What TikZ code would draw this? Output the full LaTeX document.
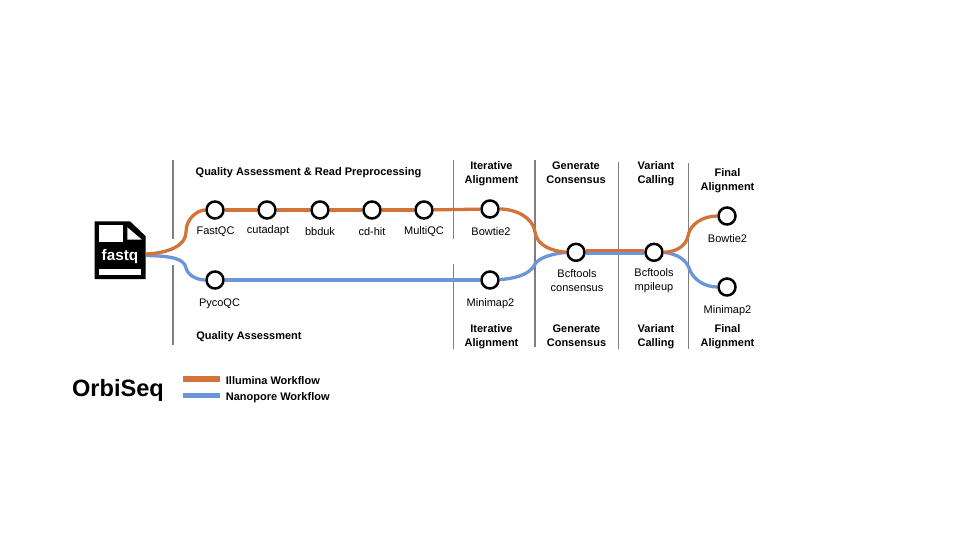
\documentclass[tikz,border=0pt]{standalone}
\usepackage{fontspec}
\setmainfont{Liberation Sans}
\definecolor{illumina}{HTML}{D1733B}
\definecolor{nanopore}{HTML}{6C96D8}
\definecolor{rulegray}{HTML}{7F7F7F}
\tikzset{
  station/.style={circle,draw=black,fill=white,line width=2.5pt,minimum size=17pt,inner sep=0pt},
  tool/.style={font=\fontsize{11}{14}\selectfont,align=center,inner sep=0pt,yshift=-1.2pt},
  head/.style={font=\bfseries\fontsize{11}{14}\selectfont,align=center,inner sep=0pt,yshift=-1.8pt},
  illuminaline/.style={draw=illumina,line width=3.3pt},
  nanoporeline/.style={draw=nanopore,line width=3.3pt},
  divider/.style={draw=rulegray,line width=1.2pt}
}

\begin{document}
\begin{tikzpicture}[x=1pt,y=-1pt]
  \useasboundingbox (0,0) rectangle (960,540);

  % section dividers
  \foreach \xpos/\ystart/\yend in {173/160/239,173/265/345,453.7/160/239,453.7/264/349,535/160/347,618.7/162/349,688.7/163.5/349}
    \draw[divider] (\xpos,\ystart) -- (\xpos,\yend);

  % fastq file
  \fill[black] (94.7,221.3) -- (130,221.3) -- (145.7,236.3) -- (145.7,279) -- (94.7,279) -- cycle;
  \fill[white] (99.3,225.3) rectangle (123.3,242);
  \fill[white] (127.3,227.3) -- (127.3,239.5) -- (141.7,239.5) -- cycle;
  \fill[white] (99.3,268.7) rectangle (141,275.3);
  \node[head,text=white,font=\bfseries\fontsize{15.3}{17}\selectfont] (fastq) at (120,255) {fastq};
  \coordinate (fastq_i) at (146,254);
  \coordinate (fastq_n) at (146,255.5);

  % stations
  \node[station] (fastqc)   at (215,210)   {};
  \node[station] (cutadapt) at (267,210)   {};
  \node[station] (bbduk)    at (320,210)   {};
  \node[station] (cdhit)    at (372,210)   {};
  \node[station] (multiqc)  at (424,210)   {};
  \node[station] (bowtie_a) at (490,209)   {};
  \node[station] (pycoqc)   at (215,280)   {};
  \node[station] (minimap_a) at (490,280)  {};
  \node[station] (bcfcons)  at (576,252.3) {};
  \node[station] (mpileup)  at (654,252.3) {};
  \node[station] (bowtie_b) at (727,216)   {};
  \node[station] (minimap_b) at (727,287)  {};

  % nanopore workflow
  \draw[nanoporeline] (fastq_n) .. controls (170,256) and (184,258) .. (186,268)
    .. controls (188,276) and (198,280) .. (pycoqc);
  \draw[nanoporeline] (pycoqc) -- (minimap_a);
  \draw[nanoporeline] (minimap_a) .. controls (510,279) and (530,276) .. (535,264)
    .. controls (540,257) and (552,254) .. (bcfcons.west);
  \draw[nanoporeline] (bcfcons.-9) -- (mpileup.189);
  \draw[nanoporeline] (mpileup.east) .. controls (678,254) and (686,260) .. (689,268)
    .. controls (693,280) and (705,287) .. (minimap_b);

  % illumina workflow
  \draw[illuminaline] (fastq_i) .. controls (170,253) and (186,245) .. (186,232)
    .. controls (186,218) and (198,210) .. (fastqc);
  \draw[illuminaline] (fastqc) -- (cutadapt);
  \draw[illuminaline] (cutadapt) -- (bbduk);
  \draw[illuminaline] (bbduk) -- (cdhit);
  \draw[illuminaline] (cdhit) -- (multiqc);
  \draw[illuminaline] (multiqc) -- (bowtie_a);
  \draw[illuminaline] (bowtie_a) .. controls (515,209) and (533,217) .. (535,232)
    .. controls (537,246) and (552,251) .. (bcfcons.west);
  \draw[illuminaline] (bcfcons.9) -- (mpileup.171);
  \draw[illuminaline] (mpileup.east) .. controls (676,252) and (686,246) .. (688,236)
    .. controls (690,224) and (703,216) .. (bowtie_b);

  % tool names
  \node[tool] (lbl_fastqc)   at (215.5,230) {FastQC};
  \node[tool] (lbl_cutadapt) at (268,229)   {cutadapt};
  \node[tool] (lbl_bbduk)    at (320,230)   {bbduk};
  \node[tool] (lbl_cdhit)    at (372,230)   {cd-hit};
  \node[tool] (lbl_multiqc)  at (424,230)   {MultiQC};
  \node[tool] (lbl_bowtie_a) at (491,230)   {Bowtie2};
  \node[tool] (lbl_pycoqc)   at (219.5,302.5) {PycoQC};
  \node[tool] (lbl_minimap_a) at (490.5,302.8) {Minimap2};
  \node[tool] (lbl_bcfcons)  at (577,279)   {Bcftools\\consensus};
  \node[tool] (lbl_mpileup)  at (654,279)   {Bcftools\\mpileup};
  \node[tool] (lbl_bowtie_b) at (727.5,237) {Bowtie2};
  \node[tool] (lbl_minimap_b) at (727.5,309.8) {Minimap2};

  % section names
  \node[head] (top_qa)    at (308.5,171) {Quality Assessment \& Read Preprocessing};
  \node[head] (top_iter)  at (491.5,172) {Iterative\\Alignment};
  \node[head] (top_cons)  at (576,170.7) {Generate\\Consensus};
  \node[head] (top_var)   at (656,171.5) {Variant\\Calling};
  \node[head] (top_final) at (727.5,179) {Final\\Alignment};
  \node[head] (bot_qa)    at (249,335)   {Quality Assessment};
  \node[head] (bot_iter)  at (491.5,335) {Iterative\\Alignment};
  \node[head] (bot_cons)  at (576.5,334.2) {Generate\\Consensus};
  \node[head] (bot_var)   at (656,335)   {Variant\\Calling};
  \node[head] (bot_final) at (727.5,335) {Final\\Alignment};

  % legend
  \node[head,font=\bfseries\fontsize{23.6}{26}\selectfont] (orbiseq) at (118,389) {OrbiSeq};
  \fill[illumina] (183,376) rectangle (220,381.7);
  \fill[nanopore] (183,392.7) rectangle (220,398);
  \node[head,anchor=west] (leg_i) at (225.7,378.8) {Illumina Workflow};
  \node[head,anchor=west] (leg_n) at (225.7,396) {Nanopore Workflow};
\end{tikzpicture}
\end{document}
